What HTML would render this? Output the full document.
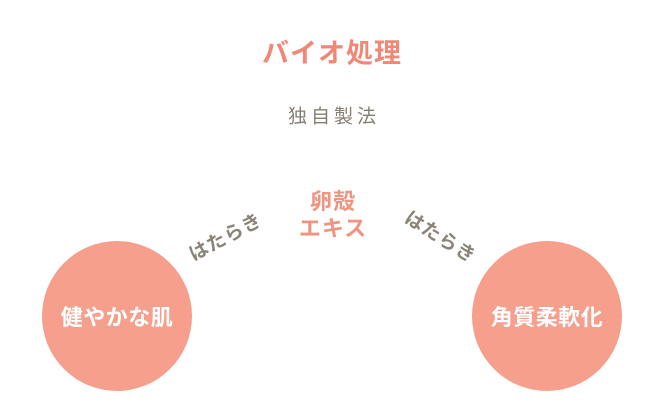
<!DOCTYPE html>
<html><head><meta charset="utf-8"><style>
body{margin:0;width:664px;height:402px;background:#fff;position:relative;overflow:hidden;font-family:"Liberation Sans","Noto Sans CJK JP",sans-serif}
.a{position:absolute;white-space:nowrap;transform:translate(-50%,-50%)}
.c{position:absolute;width:150px;height:150px;border-radius:50%;background:#f59f8c;color:#fff;font-weight:bold;font-size:22px;display:flex;align-items:center;justify-content:center;letter-spacing:0.5px}
</style></head><body>
<div class="a" style="left:332px;top:51px;font-size:27px;font-weight:bold;color:#ef8877;letter-spacing:1px">バイオ処理</div>
<div class="a" style="left:334px;top:115px;font-size:19px;color:#857f73;letter-spacing:4px">独自製法</div>
<div class="a" style="left:333px;top:215px;font-size:22px;font-weight:bold;color:#f09482;text-align:center;line-height:27px;letter-spacing:1px">卵殻<br>エキス</div>
<div class="a" style="left:225px;top:236px;font-size:19px;font-weight:bold;color:#8a8478;letter-spacing:1px;transform:translate(-50%,-50%) rotate(-28deg)">はたらき</div>
<div class="a" style="left:441px;top:236px;font-size:19px;font-weight:bold;color:#8a8478;letter-spacing:1px;transform:translate(-50%,-50%) rotate(32deg)">はたらき</div>
<div class="c" style="left:42px;top:241px">健やかな肌</div>
<div class="c" style="left:472px;top:241px">角質柔軟化</div>
</body></html>
